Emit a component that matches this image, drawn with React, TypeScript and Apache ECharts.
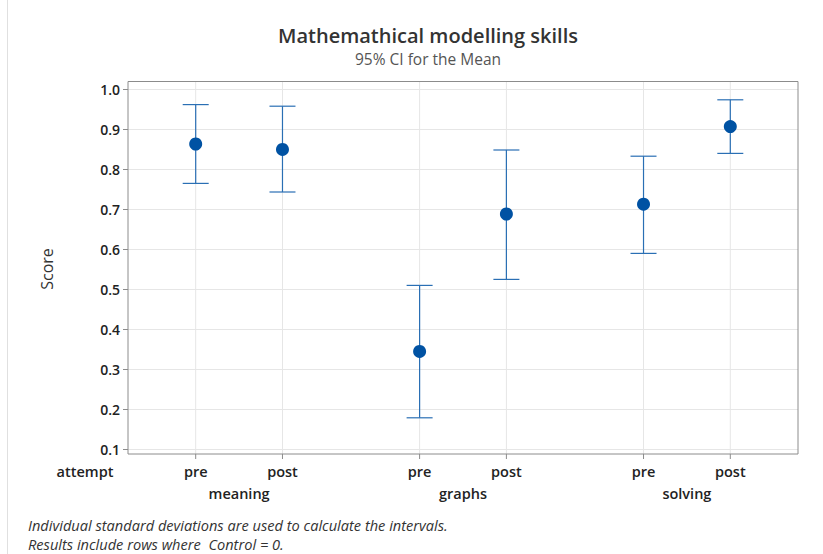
import React, { useEffect, useRef } from "react";
import * as echarts from "echarts";

const groups = ["meaning", "graphs", "solving"];
const attempts = ["pre", "post", "pre", "post", "pre", "post"];
const positions = [1, 2, 3.58, 4.58, 6.16, 7.16];
const means = [0.8625, 0.849, 0.344, 0.6875, 0.712, 0.906];
const lower = [0.764, 0.7425, 0.178, 0.524, 0.589, 0.839];
const upper = [0.961, 0.957, 0.509, 0.8475, 0.832, 0.973];

const FONT = "'Open Sans', 'Noto Sans', sans-serif";
const BOX_BOTTOM = 0.0875;
const BOX_TOP = 1.02;

export default function App() {
  const ref = useRef<HTMLDivElement>(null);
  useEffect(() => {
    if (!ref.current) return;
    const chart = echarts.init(ref.current, null, { renderer: "svg" });
    const groupPos = groups.map((_, i) => (positions[2 * i] + positions[2 * i + 1]) / 2);
    const option: any = {
      animation: false,
      backgroundColor: "#ffffff",
      graphic: [
        {
          type: "line",
          shape: { x1: 7.5, y1: 0, x2: 7.5, y2: 554 },
          style: { stroke: "#e0e0e0", lineWidth: 1 },
        },
        {
          type: "text",
          x: 428,
          y: 35,
          style: {
            text: "Mathemathical modelling skills",
            fontFamily: FONT,
            fontSize: 20,
            fontWeight: 600,
            fill: "#333333",
            align: "center",
            verticalAlign: "middle",
          },
        },
        {
          type: "text",
          x: 428,
          y: 59,
          style: {
            text: "95% CI for the Mean",
            fontFamily: FONT,
            fontSize: 15.5,
            fill: "#555555",
            align: "center",
            verticalAlign: "middle",
          },
        },
        {
          type: "rect",
          shape: { x: 128, y: 81.5, width: 670, height: 372.5 },
          style: { fill: "none", stroke: "#8c8c8c", lineWidth: 1 },
          z: 10,
        },
        {
          type: "text",
          x: 85,
          y: 471.5,
          style: {
            text: "attempt",
            fontFamily: FONT,
            fontSize: 14.5,
            fontWeight: 600,
            fill: "#222222",
            align: "center",
            verticalAlign: "middle",
          },
        },
        {
          type: "text",
          x: 28,
          y: 525,
          style: {
            text: "Individual standard deviations are used to calculate the intervals.",
            fontFamily: FONT,
            fontSize: 14.6,
            fontStyle: "italic",
            fill: "#333333",
            verticalAlign: "middle",
          },
        },
        {
          type: "text",
          x: 28,
          y: 543.5,
          style: {
            text: "Results include rows where  Control = 0.",
            fontFamily: FONT,
            fontSize: 14.6,
            fontStyle: "italic",
            fill: "#333333",
            verticalAlign: "middle",
          },
        },
      ],
      grid: { left: 128, top: 89, width: 670, height: 360, show: false },
      xAxis: {
        type: "value",
        min: 0.22,
        max: 7.94,
        show: false,
      },
      yAxis: {
        type: "value",
        min: 0.1,
        max: 1.0,
        interval: 0.1,
        name: "Score",
        nameLocation: "middle",
        nameGap: 73,
        nameTextStyle: { fontFamily: FONT, fontSize: 16, color: "#333333" },
        axisLine: { show: false },
        axisTick: { show: true, length: 5, lineStyle: { color: "#8c8c8c" } },
        axisLabel: {
          fontFamily: FONT,
          fontSize: 14,
          fontWeight: 600,
          color: "#222222",
          margin: 8,
          formatter: (v: number) => v.toFixed(1),
        },
        splitLine: { show: true, lineStyle: { color: "#e6e6e6", width: 1 } },
      },
      series: [
        {
          type: "custom",
          clip: false,
          z: 1,
          data: positions.map((p, i) => [p, i]),
          renderItem: (params: any, api: any) => {
            const x = api.value(0);
            const idx = api.value(1);
            const top = api.coord([x, BOX_TOP]);
            const bot = api.coord([x, BOX_BOTTOM]);
            return {
              type: "group",
              children: [
                {
                  type: "line",
                  shape: { x1: top[0], y1: top[1], x2: bot[0], y2: bot[1] },
                  style: { stroke: "#e6e6e6", lineWidth: 1 },
                },
                {
                  type: "line",
                  shape: { x1: bot[0], y1: bot[1], x2: bot[0], y2: bot[1] + 5 },
                  style: { stroke: "#8c8c8c", lineWidth: 1 },
                },
                {
                  type: "text",
                  x: bot[0],
                  y: bot[1] + 17.5,
                  style: {
                    text: attempts[idx],
                    fontFamily: FONT,
                    fontSize: 14.5,
                    fontWeight: 600,
                    fill: "#222222",
                    align: "center",
                    verticalAlign: "middle",
                  },
                },
              ],
            };
          },
        },
        {
          type: "custom",
          clip: false,
          z: 1,
          data: groupPos.map((p, i) => [p, i]),
          renderItem: (params: any, api: any) => {
            const x = api.value(0);
            const idx = api.value(1);
            const bot = api.coord([x, BOX_BOTTOM]);
            return {
              type: "text",
              x: bot[0],
              y: bot[1] + 39,
              style: {
                text: groups[idx],
                fontFamily: FONT,
                fontSize: 14.5,
                fontWeight: 600,
                fill: "#222222",
                align: "center",
                verticalAlign: "middle",
              },
            };
          },
        },
        {
          type: "custom",
          z: 3,
          data: positions.map((p, i) => [p, lower[i], upper[i]]),
          renderItem: (params: any, api: any) => {
            const x = api.value(0);
            const lo = api.coord([x, api.value(1)]);
            const hi = api.coord([x, api.value(2)]);
            const hw = 13;
            const st = { stroke: "#2a6fb4", lineWidth: 1.2 };
            return {
              type: "group",
              children: [
                { type: "line", shape: { x1: lo[0], y1: lo[1], x2: hi[0], y2: hi[1] }, style: st },
                { type: "line", shape: { x1: lo[0] - hw, y1: lo[1], x2: lo[0] + hw, y2: lo[1] }, style: st },
                { type: "line", shape: { x1: hi[0] - hw, y1: hi[1], x2: hi[0] + hw, y2: hi[1] }, style: st },
              ],
            };
          },
        },
        {
          type: "scatter",
          z: 4,
          symbol: "circle",
          symbolSize: 13,
          itemStyle: { color: "#0052a3", opacity: 1 },
          data: positions.map((p, i) => [p, means[i]]),
        },
      ],
    };
    chart.setOption(option);
    return () => chart.dispose();
  }, []);
  return (
    <div
      ref={ref}
      style={{ position: "fixed", left: 0, top: 0, width: 823, height: 554 }}
    />
  );
}
